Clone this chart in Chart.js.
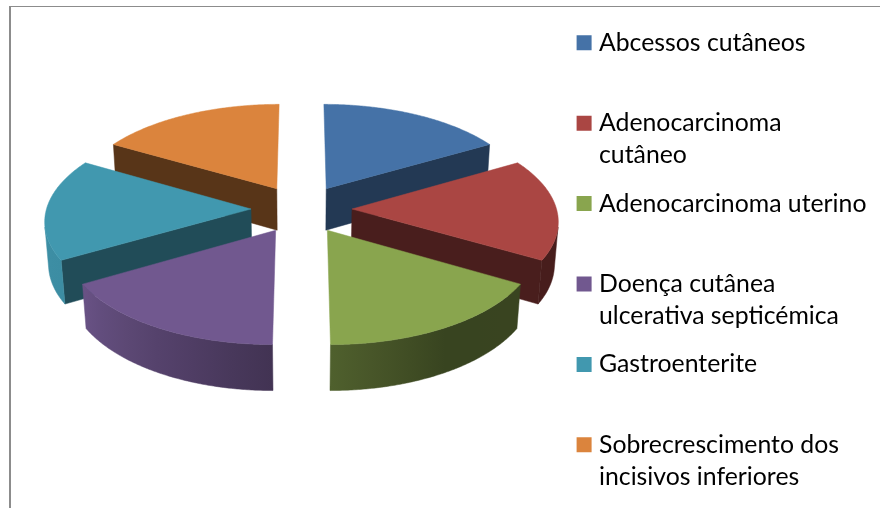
<!DOCTYPE html>
<html lang="pt">
<head>
<meta charset="utf-8">
<title>Pie 3D</title>
<script src="https://cdn.jsdelivr.net/npm/chart.js@4"></script>
<style>
html,body{margin:0;padding:0;background:#fff;width:880px;height:508px;overflow:hidden}
#frame{position:absolute;left:9px;top:6px;width:871px;height:502px;border-left:2px solid #8c8c8c;border-top:1px solid #8c8c8c;box-sizing:border-box}
canvas{position:absolute;left:0;top:0}
</style>
</head>
<body>
<div id="frame"></div>
<canvas id="c" width="880" height="508"></canvas>
<script>
const categories = [
  ["Abcessos cutâneos"],
  ["Adenocarcinoma", "cutâneo"],
  ["Adenocarcinoma uterino"],
  ["Doença cutânea", "ulcerativa septicémica"],
  ["Gastroenterite"],
  ["Sobrecrescimento dos", "incisivos inferiores"]
];
const values = [1, 1, 1, 1, 1, 1];
const colours = ["#4572a7", "#aa4643", "#89a54e", "#71588f", "#4198af", "#db843d"];
const edgeShade = [0.5, 0.43, 0.43, 0.5, 0.5, 0.4];

// Camera of the tilted pie: ground coordinates in pie radii -> canvas pixels
const view = {cx: 301.5, cy: 209, sx: 204.5, sy: 97.3, depth: 42.8, k: 0.106, m: 0.015, explode: 0.247};
function project(u, v, z) {
  const w = 1 - view.k * v + view.m * z;
  return [view.cx + view.sx * u / w, view.cy + (view.sy * v + view.depth * z) / w];
}
function shadeColour(hex, f) {
  const n = parseInt(hex.slice(1), 16);
  return `rgb(${Math.round((n >> 16) * f)},${Math.round(((n >> 8) & 255) * f)},${Math.round((n & 255) * f)})`;
}
const light = [[0, 0.42], [60, 0.41], [90, 0.58], [150, 0.93], [180, 0.95]];
function wallShade(deg) {
  for (let i = 1; i < light.length; i++) {
    if (deg <= light[i][0]) {
      const t = (deg - light[i - 1][0]) / (light[i][0] - light[i - 1][0]);
      return light[i - 1][1] + t * (light[i][1] - light[i - 1][1]);
    }
  }
  return light[light.length - 1][1];
}
function poly(ctx, pts, colour) {
  ctx.beginPath();
  pts.forEach((p, i) => i ? ctx.lineTo(p[0], p[1]) : ctx.moveTo(p[0], p[1]));
  ctx.closePath();
  ctx.fillStyle = colour;
  ctx.strokeStyle = colour;
  ctx.lineWidth = 0.5;
  ctx.fill();
  ctx.stroke();
}

const pie3d = {
  id: 'pie3d',
  beforeDatasetDraw(chart, args) {
    const ctx = chart.ctx;
    const arcs = chart.getDatasetMeta(args.index).data.map((arc, i) => {
      const p = arc.getProps(['startAngle', 'endAngle'], true);
      return {i, s: p.startAngle, e: p.endAngle, mid: (p.startAngle + p.endAngle) / 2};
    }).sort((a, b) => Math.sin(a.mid) - Math.sin(b.mid));
    arcs.forEach(({i, s, e, mid}) => {
      const ou = view.explode * Math.cos(mid), ov = view.explode * Math.sin(mid);
      const rim = a => [ou + Math.cos(a), ov + Math.sin(a)];
      const base = colours[i];
      const flat = shadeColour(base, edgeShade[i]);
      const quad = (a, b) => poly(ctx, [project(a[0], a[1], 0), project(b[0], b[1], 0), project(b[0], b[1], 1), project(a[0], a[1], 1)], flat);
      if (-Math.cos(s) > 0.01) quad([ou, ov], rim(s));
      if (Math.cos(e) > 0.01) quad([ou, ov], rim(e));
      const step = Math.PI / 360;
      // visible part of the outer wall: rim angles whose wall faces the viewer
      const facing = a => {
        const r = rim(a), q = rim(a + 0.001);
        const t0 = project(r[0], r[1], 0), t1 = project(q[0], q[1], 0), b0 = project(r[0], r[1], 1);
        return (t1[0] - t0[0]) * (b0[1] - t0[1]) - (t1[1] - t0[1]) * (b0[0] - t0[0]) < 0;
      };
      const angles = [];
      for (let a = s; a < e + step / 2; a += step) {
        const b = Math.min(a, e);
        if (facing(b)) angles.push(b);
      }
      if (angles.length > 1) {
        const upper = angles.map(a => project(rim(a)[0], rim(a)[1], 0));
        const lower = angles.map(a => project(rim(a)[0], rim(a)[1], 1)).reverse();
        const x0 = upper[0][0], x1 = upper[upper.length - 1][0];
        const grad = ctx.createLinearGradient(x0, 0, x1, 0);
        angles.forEach((a, j) => {
          if (j % 20 && j !== angles.length - 1) return;
          const t = Math.max(0, Math.min(1, (upper[j][0] - x0) / (x1 - x0)));
          let deg = a * 180 / Math.PI;
          deg = ((deg % 360) + 360) % 360;
          if (deg > 270) deg = 0;
          grad.addColorStop(t, shadeColour(base, wallShade(deg)));
        });
        poly(ctx, upper.concat(lower), grad);
      }
      const top = [project(ou, ov, 0)];
      for (let a = s; a < e; a += step) { const r = rim(a); top.push(project(r[0], r[1], 0)); }
      const last = rim(e); top.push(project(last[0], last[1], 0));
      poly(ctx, top, base);
    });
    return false;
  },
  beforeDraw(chart) { chart.legend.left = 565.2; }
};

new Chart(document.getElementById('c'), {
  type: 'pie',
  data: {labels: categories, datasets: [{data: values, backgroundColor: colours, borderWidth: 0}]},
  plugins: [pie3d],
  options: {
    responsive: false,
    animation: false,
    layout: {padding: {top: 14}},
    plugins: {
      tooltip: {enabled: false},
      legend: {
        position: 'right',
        align: 'start',
        labels: {
          boxWidth: 5,
          boxHeight: 5,
          padding: 16.4,
          color: '#000',
          font: {family: 'Lato', size: 24.8, lineHeight: 32 / 24.8},
          generateLabels: () => categories.map((c, i) => ({
            text: c.length > 1 ? c : [c[0], ''],
            fillStyle: colours[i], strokeStyle: colours[i], lineWidth: 10, index: i, hidden: false
          }))
        }
      }
    }
  }
});
</script>
</body>
</html>
